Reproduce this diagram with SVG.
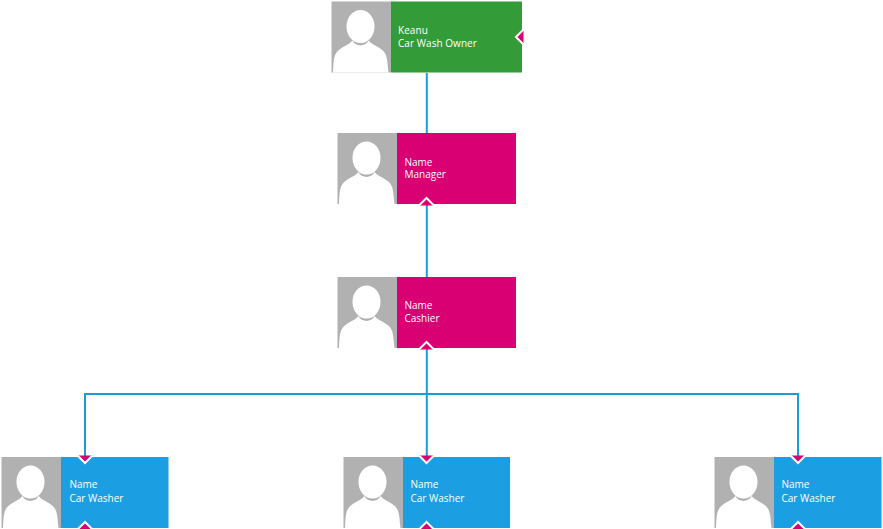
<svg xmlns="http://www.w3.org/2000/svg" xmlns:xlink="http://www.w3.org/1999/xlink" width="883" height="529" viewBox="0 0 883 529">
<style>
.photo{fill:#b1b1b1}
.person{fill:#fff}
.green{fill:#339c39}
.pink{fill:#d90073}
.blue{fill:#1c9fe2}
.label{font-family:"Open Sans","Liberation Sans",sans-serif;font-size:10px;fill:#fff}
.wire{fill:none;stroke:#1b9cd8;stroke-width:2}
.mark{fill:#d90073;stroke:#fff;stroke-width:2}
</style>
<defs>
<g id="avatar">
<rect class="photo" x="0" y="0" width="59.500" height="71"/>
<path class="person" d="M1.500 71C2 62 2 55 5 51C9 45.500 17 44 21 39C24 45.500 34 45.500 37 39C41 44 49 45.500 53 51C56 55 56 62 57 71Z"/>
<ellipse class="person" cx="29" cy="25" rx="14" ry="16.500"/>
</g>
</defs>
<g id="connectors">
<path class="wire" d="M426.800 73V133"/>
<path class="wire" d="M426.800 204V277"/>
<path class="wire" d="M426.800 348V457"/>
<path class="wire" d="M85 457V394H798V457"/>
</g>
<g id="node-owner">
<rect class="green" x="391" y="1.500" width="131" height="71"/>
<use xlink:href="#avatar" href="#avatar" x="331.500" y="1.500"/>
<path class="mark" d="M523.500 29.500L516 37L523.500 44.500"/>
<text class="label"><tspan x="398" y="33.500" letter-spacing=".05">Keanu</tspan><tspan x="398" y="46.500" letter-spacing=".05">Car Wash Owner</tspan></text>
</g>
<g id="node-manager">
<rect class="pink" x="397" y="133" width="119" height="71"/>
<use xlink:href="#avatar" href="#avatar" x="337.500" y="133"/>
<path class="mark" d="M419 205.500L426.500 198L434 205.500"/>
<text class="label"><tspan x="404.500" y="166">Name</tspan></text>
<text class="label"><tspan x="404.500" y="178">Manager</tspan></text>
</g>
<g id="node-cashier">
<rect class="pink" x="397" y="277" width="119" height="71"/>
<use xlink:href="#avatar" href="#avatar" x="337.500" y="277"/>
<path class="mark" d="M419 349.500L426.500 342L434 349.500"/>
<text class="label"><tspan x="404.500" y="309">Name</tspan><tspan x="404.500" y="322">Cashier</tspan></text>
</g>
<g id="node-washer-1">
<rect class="blue" x="61" y="457" width="107.500" height="71"/>
<use xlink:href="#avatar" href="#avatar" x="1.500" y="457"/>
<path class="mark" d="M77.500 455.500L85 463L92.500 455.500"/>
<path class="mark" d="M77.500 529.500L85 522L92.500 529.500"/>
<text class="label"><tspan x="69.500" y="488">Name</tspan><tspan x="69.500" y="501.500">Car Washer</tspan></text>
</g>
<g id="node-washer-2">
<rect class="blue" x="403" y="457" width="107" height="71"/>
<use xlink:href="#avatar" href="#avatar" x="343.500" y="457"/>
<path class="mark" d="M419 455.500L426.500 463L434 455.500"/>
<path class="mark" d="M419 529.500L426.500 522L434 529.500"/>
<text class="label"><tspan x="410.500" y="488">Name</tspan><tspan x="410.500" y="501.500">Car Washer</tspan></text>
</g>
<g id="node-washer-3">
<rect class="blue" x="774" y="457" width="107.500" height="71"/>
<use xlink:href="#avatar" href="#avatar" x="714.500" y="457"/>
<path class="mark" d="M790.500 455.500L798 463L805.500 455.500"/>
<path class="mark" d="M790.500 529.500L798 522L805.500 529.500"/>
<text class="label"><tspan x="781.500" y="488">Name</tspan><tspan x="781.500" y="501.500">Car Washer</tspan></text>
</g>
</svg>
